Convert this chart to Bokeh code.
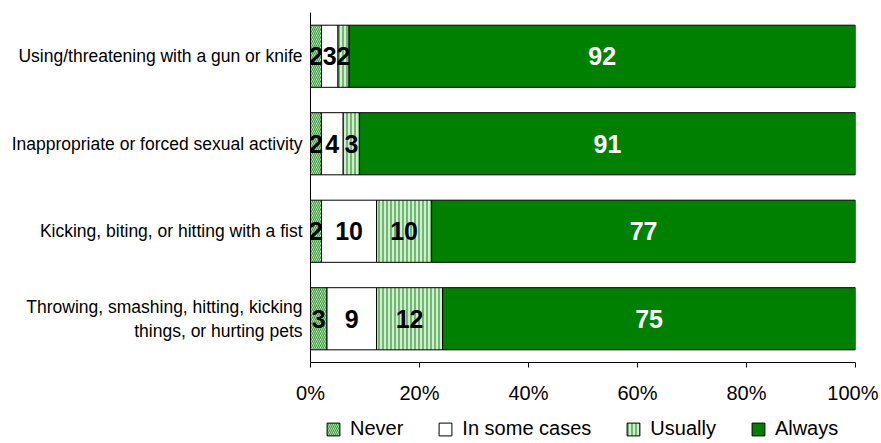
from bokeh.plotting import figure
from bokeh.layouts import column
from bokeh.models import (ColumnDataSource, FactorRange, Range1d, FixedTicker,
                          PrintfTickFormatter, Legend, LegendItem, LabelSet)
from bokeh.core.properties import value
from bokeh.embed import file_html
from bokeh.resources import INLINE

categories = [
    "Using/threatening with a gun or knife",
    "Inappropriate or forced sexual activity",
    "Kicking, biting, or hitting with a fist",
    "Throwing, smashing, hitting, kicking\nthings, or hurting pets",
]
series = ["Never", "In some cases", "Usually", "Always"]
never = [2, 2, 2, 3]
some_cases = [3, 4, 10, 9]
usually = [2, 3, 10, 12]
always = [92, 91, 77, 75]
x_ticks = [0, 20, 40, 60, 80, 100]

values = [never, some_cases, usually, always]
fills = ["white", "white", "#d2ecd2", "#008000"]
hatches = ["left_diagonal_line", "blank", "vertical_line", "blank"]
hatch_colors = ["#3a9e3a", "white", "#3a9e3a", "#008000"]
text_colors = ["black", "black", "black", "white"]

FONT = "Liberation Sans"
W = 878

p = figure(frame_width=545, frame_height=350, output_backend="svg",
           toolbar_location=None,
           y_range=FactorRange(factors=list(reversed(categories))),
           x_range=Range1d(0, 100))
p.min_border_left = 310
p.min_border_right = W - 310 - 545
p.min_border_top = 12
p.min_border_bottom = 48
p.outline_line_color = None
p.grid.visible = False

# legend strip below the chart: the same bars on a numeric y range, where the
# category positions do not map, so that only the legend keys are drawn
lg = figure(width=W, height=31, output_backend="svg", toolbar_location=None,
            x_range=Range1d(0, 100), y_range=Range1d(0, 1))
lg.min_border = 0
lg.axis.visible = False
lg.grid.visible = False
lg.outline_line_color = None

totals = [sum(v[i] for v in values) for i in range(len(categories))]
left = [0.0] * len(categories)
items = []
for name, vals, fc, hp, hc, tc in zip(series, values, fills, hatches, hatch_colors, text_colors):
    l = list(left)
    r = [left[i] + vals[i] * 100.0 / totals[i] for i in range(len(categories))]
    src = ColumnDataSource(dict(y=categories, left=l, right=r,
                                mid=[(a + b) / 2 for a, b in zip(l, r)],
                                txt=[str(v) for v in vals]))
    style = dict(fill_color=fc, line_color="black", line_width=1,
                 hatch_pattern=hp, hatch_color=hc, hatch_scale=4, hatch_weight=1.3)
    p.hbar(y="y", left="left", right="right", height=0.71, source=src, **style)
    key = lg.hbar(y="y", left="left", right="right", height=0.71, source=src, **style)
    items.append(LegendItem(label=name, renderers=[key]))
    lab = LabelSet(x="mid", y="y", text="txt", source=src, text_align="center",
                   text_baseline="middle", text_color=tc,
                   text_font_size=value("25px"),
                   text_font_style="bold", text_font=value(FONT))
    p.add_layout(lab)
    left = r

xa = p.xaxis[0]
xa.ticker = FixedTicker(ticks=x_ticks)
xa.formatter = PrintfTickFormatter(format="%d%%")
xa.major_tick_in = 0
xa.major_tick_out = 5
xa.minor_tick_line_color = None
xa.axis_line_color = "black"
xa.major_tick_line_color = "black"
xa.major_label_text_font = FONT
xa.major_label_text_font_size = "20px"
xa.major_label_text_color = "black"
xa.major_label_standoff = 14

ya = p.yaxis[0]
ya.major_tick_out = 0
ya.major_tick_in = 0
ya.minor_tick_line_color = None
ya.axis_line_color = "black"
ya.major_label_text_font = FONT
ya.major_label_text_font_size = "17.5px"
ya.major_label_text_color = "black"
ya.major_label_standoff = 8

legend = Legend(items=items, orientation="horizontal", location=(15, 1),
                label_text_font=FONT, label_text_font_size="20px",
                label_text_color="black", glyph_width=16, glyph_height=16,
                label_standoff=9, spacing=34, padding=0, margin=0,
                border_line_color=None, background_fill_alpha=0)
lg.add_layout(legend)

open("out.html", "w").write(file_html(column(p, lg, spacing=0), INLINE))
